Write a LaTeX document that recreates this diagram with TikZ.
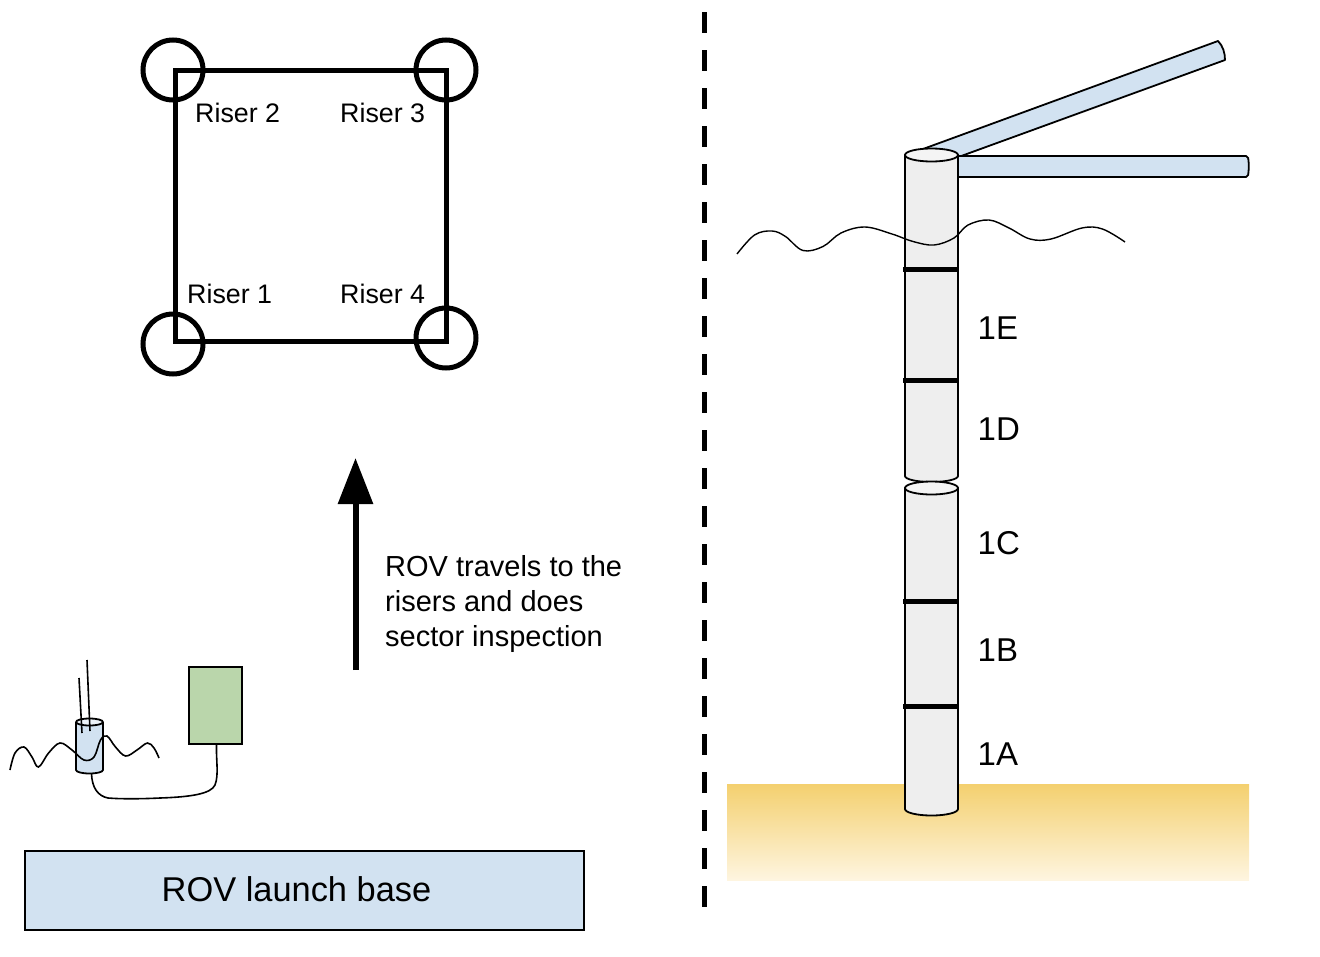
\documentclass[tikz,border=0pt]{standalone}
\usepackage{fontspec}
\setmainfont{Liberation Sans}
\usetikzlibrary{arrows.meta,calc}
\definecolor{paleblue}{HTML}{D2E2F1}
\definecolor{palegreen}{HTML}{BAD6AB}
\definecolor{pipegrey}{HTML}{EEEEEE}
\definecolor{pipetop}{HTML}{F4F4F4}
\definecolor{sandtop}{HTML}{F4D06F}
\definecolor{sandbot}{HTML}{FEF5E0}
\tikzset{
  sq/.style={line width=5pt,draw=black},
  riserlabel/.style={font=\fontsize{26.8}{30}\selectfont,inner sep=0pt,anchor=base west},
  seclabel/.style={font=\fontsize{33}{36}\selectfont,inner sep=0pt,anchor=base west},
  ring/.style={line width=5pt,draw=black},
  outl/.style={line width=1.8pt,draw=black,line join=round},
  wave/.style={line width=1.4pt,draw=black},
}
\begin{document}
\begin{tikzpicture}[x=1pt,y=-1pt]
\useasboundingbox (0,0) rectangle (1320,956);
% divider
\draw[line width=5pt,dash pattern=on 21pt off 17pt] (704,12) -- (704,907);
% plan view
\draw[sq] (175,70) rectangle (446,341);
\foreach \n/\cx/\cy in {r2/173/70,r3/446/70,r1/173/344,r4/446/338}
  \node[circle,draw=black,line width=5pt,minimum size=60pt,inner sep=0pt] (\n) at (\cx,\cy) {};
\node[riserlabel] (lr2) at (195,122) {Riser 2};
\node[riserlabel] (lr3) at (340,122) {Riser 3};
\node[riserlabel] (lr1) at (187,303) {Riser 1};
\node[riserlabel] (lr4) at (340,303) {Riser 4};
% arrow
\coordinate (as) at (355.5,670);
\coordinate (ae) at (355.5,458);
\draw[line width=6pt,-{Triangle[length=46pt,width=34pt]}] (as) -- (ae);
\node[inner sep=0pt,anchor=west,align=left,font=\fontsize{29}{35}\selectfont] (trav) at (385,604) {ROV travels to the\\risers and does\\sector inspection};
% base
\node[draw=black,line width=1.5pt,fill=paleblue,minimum width=559pt,minimum height=79pt,inner sep=0pt] (base) at (304.5,890.5) {};
\node[inner sep=0pt,font=\fontsize{34.4}{38}\selectfont] (basetext) at (296.5,889) {ROV launch base};
% ROV box
\node[draw=black,line width=2pt,fill=palegreen,minimum width=53pt,minimum height=77pt,inner sep=0pt] (box) at (215.5,705.5) {};
% small cylinder
\path[fill=paleblue] (76,722) -- (76,770) arc[start angle=180,end angle=360,x radius=13.5pt,y radius=3.5pt] -- (103,722) arc[start angle=0,end angle=180,x radius=13.5pt,y radius=3.5pt] -- cycle;
\draw[outl] (76,722) -- (76,770) arc[start angle=180,end angle=360,x radius=13.5pt,y radius=3.5pt] -- (103,722);
\draw[outl,fill=white!60!paleblue] (89.5,722) ellipse[x radius=13.5pt,y radius=3.5pt];
\coordinate (cylb) at (91.5,773.5);
\draw[line width=1.6pt] (79,678) -- (82,733);
\draw[line width=1.6pt] (87,660) -- (90,731);
\draw[wave,line width=1.6pt] plot[smooth,tension=0.6] coordinates {(10,770) (15,753) (24,747) (32,757) (38.5,767) (48.6,753) (60,743) (72,750) (84,760) (94,757) (100.5,740) (107,736) (115.5,747) (125.6,756) (137,750) (147.4,743) (154,748) (159,758)};
\draw[line width=1.6pt] (box.south) ++(1,0) coordinate (boxb) (boxb) .. controls (216,760) and (219,775) .. (215,785) .. controls (211,794) and (190,797) .. (160,798) .. controls (140,799) and (120,799) .. (108,798) .. controls (98,796) and (92,788) .. (cylb);
% sand
\shade[top color=sandtop,bottom color=sandbot] (727,784) rectangle (1249,880);
% braces
\draw[outl,fill=paleblue] (923,149) -- (1218,41) .. controls (1223,46) and (1225,53) .. (1225,60) -- (953,159) -- cycle;
\draw[outl,fill=paleblue,rounded corners=2pt] (950,156) -- (1248,156) -- (1249,166) -- (1248,177) -- (950,177) -- cycle;
% upper pipe
\draw[outl,fill=pipegrey] (905,155) -- (905,476) arc[start angle=180,end angle=360,x radius=26.5pt,y radius=6pt] -- (958,155) -- cycle;
\draw[outl,fill=pipetop] (931.5,155) ellipse[x radius=26.5pt,y radius=6.5pt];
% lower pipe
\draw[outl,fill=pipegrey] (905,488) -- (905,809) arc[start angle=180,end angle=360,x radius=26.5pt,y radius=6.5pt] -- (958,488) -- cycle;
\draw[outl,fill=pipetop] (931.5,488) ellipse[x radius=26.5pt,y radius=6.5pt];
% rings
\foreach \y in {269,380,601,706}
  \draw[ring] (903,\y) -- (959,\y);
% water
\draw[wave] plot[smooth,tension=0.6] coordinates {(737,254) (754.5,235) (772,231) (785.5,236.5) (803,250.5) (823,246.5) (841,233) (865,227) (892,234) (913,241.5) (934,245) (954,238) (968,225) (989,220) (1009,228) (1030,239) (1051,239) (1082,228) (1102.5,229) (1125,242)};
% section labels
\node[seclabel] (s1e) at (977.5,339) {1E};
\node[seclabel] (s1d) at (977.5,440) {1D};
\node[seclabel] (s1c) at (977.5,554) {1C};
\node[seclabel] (s1b) at (977.5,661) {1B};
\node[seclabel] (s1a) at (977.5,765) {1A};
\end{tikzpicture}
\end{document}
